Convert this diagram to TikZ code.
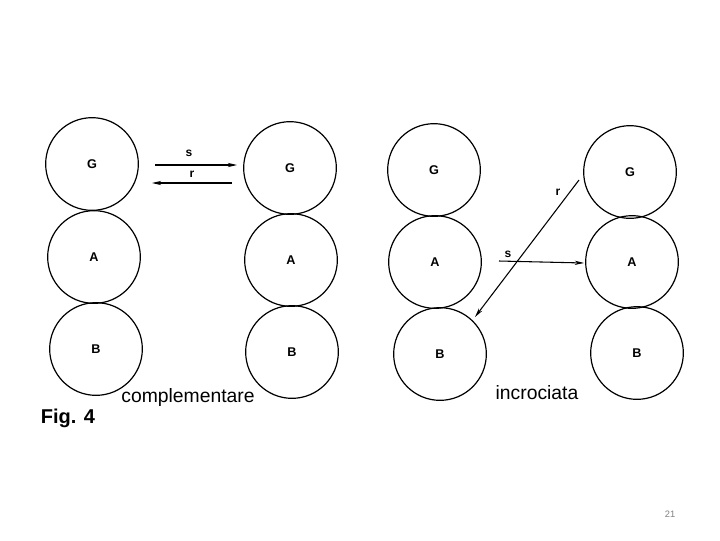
\documentclass[tikz,border=0pt]{standalone}
\usepackage{fontspec}
\setmainfont{Liberation Sans}
\usetikzlibrary{arrows.meta}
\begin{document}
\begin{tikzpicture}[x=0.75pt,y=-0.75pt,
  ball/.style={circle,draw,line width=0.9pt,minimum size=69.5pt,inner sep=0pt,font=\bfseries\fontsize{9.5}{10}\selectfont},
  arr/.style={line width=0.8pt,-{Stealth[length=7pt,width=3.2pt]}},
  lbl/.style={font=\bfseries\fontsize{9}{10}\selectfont,inner sep=1pt},
  captext/.style={font=\fontsize{14.5}{16}\selectfont,inner sep=0pt}]
\useasboundingbox (0,0) rectangle (720,540);
% complementare, left column
\node[ball] (g1) at (92,164) {G};
\node[ball] (a1) at (94,257) {A};
\node[ball] (b1) at (96,349) {B};
% complementare, right column
\node[ball] (g2) at (290,168) {G};
\node[ball] (a2) at (291,260) {A};
\node[ball] (b2) at (292,352) {B};
% incrociata, left column
\node[ball] (g3) at (434,170) {G};
\node[ball] (a3) at (435,262) {A};
\node[ball] (b3) at (440,354) {B};
% incrociata, right column
\node[ball] (g4) at (630,172) {G};
\node[ball] (a4) at (632,262) {A};
\node[ball] (b4) at (637,353) {B};
% arrows complementare
\coordinate (s1a) at (155,165);
\coordinate (s1b) at (237,165);
\coordinate (r1a) at (232,183);
\coordinate (r1b) at (152,183);
\draw[arr] (s1a) -- (s1b);
\draw[arr] (r1a) -- (r1b);
\node[lbl] (s1) at (189,153) {s};
\node[lbl] (r1) at (192,174) {r};
% arrows incrociata
\coordinate (r2a) at (579,180);
\coordinate (r2b) at (475,317);
\coordinate (s2a) at (499,261);
\coordinate (s2b) at (584,263);
\draw[arr] (r2a) -- (r2b);
\draw[arr] (s2a) -- (s2b);
\node[lbl] (r2) at (558,192) {r};
\node[lbl] (s2) at (508,254) {s};
% captions
\node[captext] (c1) at (188,397) {complementare};
\node[captext] (c2) at (537,393) {incrociata};
\node[captext,font=\bfseries\fontsize{15}{17}\selectfont] (fig) at (68,418) {Fig. 4};
\node[font=\fontsize{7}{8}\selectfont,text=gray] (pg) at (670,514) {21};
\end{tikzpicture}
\end{document}
